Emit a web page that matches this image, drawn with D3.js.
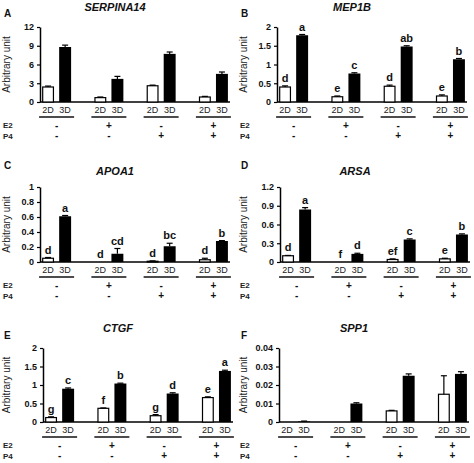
<!DOCTYPE html>
<html><head><meta charset="utf-8">
<script src="https://cdn.jsdelivr.net/npm/d3@7"></script>
<style>
body{margin:0;background:#fff;}
svg{display:block;font-family:"Liberation Sans",Arial,sans-serif;}
</style></head><body>
<svg id="chart" width="474" height="463"></svg>
<script>
// ---------- DATA ----------
const groups = ["g1", "g2", "g3", "g4"];
const cultures = ["2D", "3D"];
const e2Signs = ["-", "+", "-", "+"];
const p4Signs = ["-", "-", "+", "+"];
const panelLetters = ["A", "B", "C", "D", "E", "F"];
const geneNames = ["SERPINA14", "MEP1B", "APOA1", "ARSA", "CTGF", "SPP1"];
const yMaxes = [12, 2, 1, 1.2, 2, 0.04];
const tickLabelsA = ["0", "3", "6", "9", "12"];
const tickLabelsB = ["0", "0.5", "1", "1.5", "2"];
const tickLabelsC = ["0", "0.2", "0.4", "0.6", "0.8", "1"];
const tickLabelsD = ["0", "0.3", "0.6", "0.9", "1.2"];
const tickLabelsE = ["0", "0.5", "1", "1.5", "2"];
const tickLabelsF = ["0", "0.01", "0.02", "0.03", "0.04"];

const valsA2D = [2.4, 0.7, 2.6, 0.8];      const errA2D = [0.15, 0.1, 0.1, 0.1];
const valsA3D = [8.8, 3.7, 7.7, 4.5];      const errA3D = [0.3, 0.4, 0.3, 0.3];
const valsB2D = [0.40, 0.14, 0.42, 0.16];  const errB2D = [0.03, 0.02, 0.03, 0.03];
const valsB3D = [1.78, 0.76, 1.48, 1.14];  const errB3D = [0.02, 0.02, 0.02, 0.02];
const valsC2D = [0.05, 0.0, 0.01, 0.03];   const errC2D = [0.01, 0, 0.005, 0.02];
const valsC3D = [0.61, 0.11, 0.21, 0.28];  const errC3D = [0.01, 0.07, 0.04, 0.005];
const valsD2D = [0.10, 0.0, 0.04, 0.05];   const errD2D = [0.005, 0, 0.01, 0.01];
const valsD3D = [0.84, 0.13, 0.36, 0.44];  const errD3D = [0.03, 0.01, 0.01, 0.01];
const valsE2D = [0.12, 0.37, 0.17, 0.66];  const errE2D = [0.02, 0.01, 0.03, 0.02];
const valsE3D = [0.90, 1.04, 0.77, 1.38];  const errE3D = [0.02, 0.01, 0.02, 0.02];
const valsF2D = [0.0, 0.0, 0.006, 0.015];  const errF2D = [0, 0, 0.0003, 0.01];
const valsF3D = [0.0003, 0.010, 0.025, 0.026]; const errF3D = [0.0002, 0.0004, 0.001, 0.0012];

const sigB2D = ["d", "e", "d", "e"];   const sigB3D = ["a", "c", "ab", "b"];
const sigC2D = ["d", "d", "d", "d"];   const sigC3D = ["a", "cd", "bc", "b"];
const sigD2D = ["d", "f", "ef", "e"];  const sigD3D = ["a", "d", "c", "b"];
const sigE2D = ["g", "f", "g", "e"];   const sigE3D = ["c", "b", "d", "a"];

const panelsData = [
  {v2: valsA2D, e2: errA2D, v3: valsA3D, e3: errA3D, s2: null, s3: null, ticks: tickLabelsA},
  {v2: valsB2D, e2: errB2D, v3: valsB3D, e3: errB3D, s2: sigB2D, s3: sigB3D, ticks: tickLabelsB},
  {v2: valsC2D, e2: errC2D, v3: valsC3D, e3: errC3D, s2: sigC2D, s3: sigC3D, ticks: tickLabelsC},
  {v2: valsD2D, e2: errD2D, v3: valsD3D, e3: errD3D, s2: sigD2D, s3: sigD3D, ticks: tickLabelsD},
  {v2: valsE2D, e2: errE2D, v3: valsE3D, e3: errE3D, s2: sigE2D, s3: sigE3D, ticks: tickLabelsE},
  {v2: valsF2D, e2: errF2D, v3: valsF3D, e3: errF3D, s2: null, s3: null, ticks: tickLabelsF}
];

// ---------- LAYOUT ----------
const layout = [
  {ax: 40,  top: 27,  bottom: 102, letterX: 4,   letterY: 17,  titleY: 11},
  {ax: 277, top: 27,  bottom: 102, letterX: 241, letterY: 17,  titleY: 11},
  {ax: 40,  top: 187, bottom: 262, letterX: 4,   letterY: 169, titleY: 175},
  {ax: 280, top: 187, bottom: 262, letterX: 241, letterY: 169, titleY: 175},
  {ax: 43,  top: 348, bottom: 422, letterX: 4,   letterY: 339, titleY: 332},
  {ax: 279, top: 348, bottom: 422, letterX: 241, letterY: 339, titleY: 332}
];
const axisLen = 190;

const svg = d3.select("#chart");

panelsData.forEach((pd, i) => {
  const L = layout[i];
  const g = svg.append("g");
  const x0 = d3.scaleBand().domain(groups).range([L.ax, L.ax + axisLen]).paddingInner(0.445).paddingOuter(0.04);
  const x1 = d3.scaleBand().domain(cultures).range([0, x0.bandwidth()]).paddingInner(0.3).paddingOuter(0);
  const y = d3.scaleLinear().domain([0, yMaxes[i]]).range([L.bottom, L.top]);
  const tickVals = pd.ticks.map(Number);

  // y axis
  const yAxis = d3.axisLeft(y).tickValues(tickVals).tickFormat((d, k) => pd.ticks[k]).tickSizeOuter(0).tickSizeInner(3).tickPadding(3);
  const ya = g.append("g").attr("transform", `translate(${L.ax},0)`).call(yAxis);
  ya.select(".domain").attr("stroke", "#000").attr("stroke-width", 1.5);
  ya.selectAll(".tick line").attr("stroke", "#000").attr("stroke-width", 1.2);
  ya.selectAll(".tick text").attr("font-size", 9).attr("font-weight", "bold").attr("fill", "#111")
    .attr("font-family", "Liberation Sans, Arial, sans-serif");

  // x axis line
  g.append("line").attr("x1", L.ax).attr("x2", L.ax + axisLen).attr("y1", L.bottom).attr("y2", L.bottom)
    .attr("stroke", "#000").attr("stroke-width", 1.5);

  // bars
  const rows = [];
  groups.forEach((gr, k) => {
    rows.push({g: gr, c: "2D", v: pd.v2[k], e: pd.e2[k], s: pd.s2 ? pd.s2[k] : null});
    rows.push({g: gr, c: "3D", v: pd.v3[k], e: pd.e3[k], s: pd.s3 ? pd.s3[k] : null});
  });
  const bx = d => x0(d.g) + x1(d.c);
  g.selectAll("rect.bar").data(rows).join("rect")
    .attr("x", d => bx(d) + (d.c === "2D" ? 0.6 : 0))
    .attr("width", d => x1.bandwidth() - (d.c === "2D" ? 1.2 : 0))
    .attr("y", d => y(d.v))
    .attr("height", d => Math.max(0, y(0) - y(d.v)))
    .attr("fill", d => d.c === "2D" ? "#fff" : "#000")
    .attr("stroke", "#000")
    .attr("stroke-width", d => d.c === "2D" ? 1.2 : 0);

  // error bars
  const eb = rows.filter(d => d.e > 0);
  const cx = d => bx(d) + x1.bandwidth() / 2;
  g.selectAll("line.err").data(eb).join("line")
    .attr("x1", cx).attr("x2", cx).attr("y1", d => y(d.v)).attr("y2", d => y(d.v + d.e))
    .attr("stroke", "#000").attr("stroke-width", 1.2);
  g.selectAll("line.cap").data(eb).join("line")
    .attr("x1", d => cx(d) - 3).attr("x2", d => cx(d) + 3).attr("y1", d => y(d.v + d.e)).attr("y2", d => y(d.v + d.e))
    .attr("stroke", "#000").attr("stroke-width", 1.2);

  // significance letters
  g.selectAll("text.sig").data(rows.filter(d => d.s)).join("text")
    .attr("x", cx).attr("y", d => y(d.v + d.e) - 4)
    .attr("text-anchor", "middle").attr("font-size", 11).attr("font-weight", "bold").attr("fill", "#111")
    .text(d => d.s);

  // 2D/3D labels
  g.selectAll("text.cult").data(rows).join("text")
    .attr("x", cx).attr("y", L.bottom + 11)
    .attr("text-anchor", "middle").attr("font-size", 9).attr("fill", "#222")
    .text(d => d.c);

  // underline
  g.selectAll("line.ul").data(groups).join("line")
    .attr("x1", d => x0(d) - 3).attr("x2", d => x0(d) + x0.bandwidth() + 3)
    .attr("y1", L.bottom + 15).attr("y2", L.bottom + 15)
    .attr("stroke", "#111").attr("stroke-width", 1.4);

  // E2/P4 signs
  const signRows = [{lab: "E2", s: e2Signs, dy: 26.5}, {lab: "P4", s: p4Signs, dy: 37}];
  signRows.forEach(sr => {
    g.append("text").attr("x", L.letterX - 1).attr("y", L.bottom + sr.dy - 0.5)
      .attr("font-size", 8).attr("font-weight", "bold").attr("fill", "#222").text(sr.lab);
    g.selectAll(null).data(groups).join("text")
      .attr("x", d => x0(d) + x0.bandwidth() / 2).attr("y", L.bottom + sr.dy)
      .attr("text-anchor", "middle").attr("font-size", 10).attr("font-weight", "bold").attr("fill", "#111")
      .text((d, k) => sr.s[k]);
  });

  // y label
  g.append("text")
    .attr("transform", `translate(${L.letterX + 6},${(L.top + L.bottom) / 2}) rotate(-90)`)
    .attr("text-anchor", "middle").attr("font-size", 10).attr("fill", "#222")
    .text("Arbitrary unit");

  // title
  g.append("text").attr("x", L.ax + axisLen / 2 - 20).attr("y", L.titleY)
    .attr("text-anchor", "middle").attr("font-size", 11).attr("font-weight", "bold").attr("font-style", "italic")
    .attr("fill", "#111").text(geneNames[i]);

  // panel letter
  g.append("text").attr("x", L.letterX).attr("y", L.letterY)
    .attr("font-size", 10).attr("font-weight", "bold").attr("fill", "#111").text(panelLetters[i]);
});
</script>
</body></html>
